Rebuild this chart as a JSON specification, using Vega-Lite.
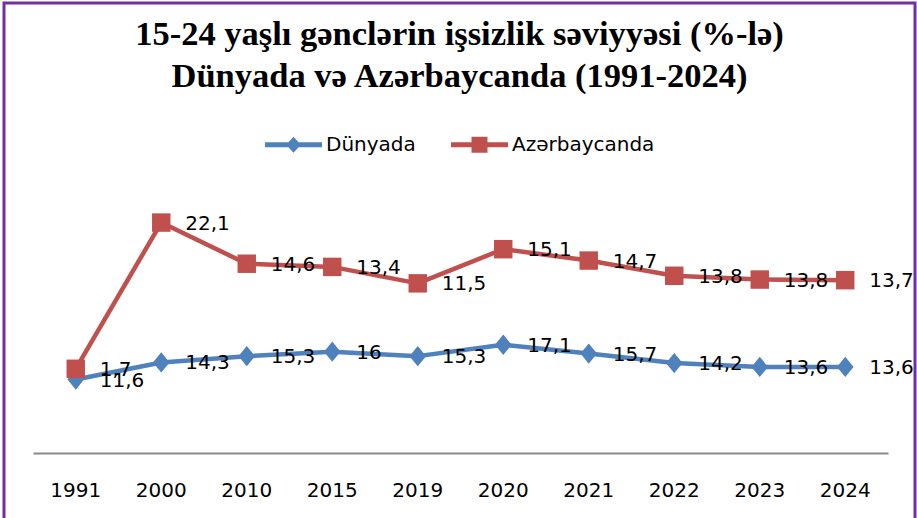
{
  "$schema": "https://vega.github.io/schema/vega-lite/v6.json",
  "width": 911,
  "height": 520,
  "autosize": {"type": "none"},
  "padding": {"left": 4, "top": 3, "right": 2, "bottom": 0},
  "title": {
    "text": ["15-24 yaşlı gənclərin işsizlik səviyyəsi (%-lə)", "Dünyada və Azərbaycanda (1991-2024)"],
    "font": "Liberation Serif",
    "fontSize": 34.5,
    "fontWeight": "bold",
    "color": "black",
    "lineHeight": 42,
    "anchor": "middle",
    "frame": "group",
    "offset": -91,
    "baseline": "top"
  },
  "data": {
    "values": [
      {"year": "1991", "series": "Dünyada", "value": 11.6},
      {"year": "2000", "series": "Dünyada", "value": 14.3},
      {"year": "2010", "series": "Dünyada", "value": 15.3},
      {"year": "2015", "series": "Dünyada", "value": 16},
      {"year": "2019", "series": "Dünyada", "value": 15.3},
      {"year": "2020", "series": "Dünyada", "value": 17.1},
      {"year": "2021", "series": "Dünyada", "value": 15.7},
      {"year": "2022", "series": "Dünyada", "value": 14.2},
      {"year": "2023", "series": "Dünyada", "value": 13.6},
      {"year": "2024", "series": "Dünyada", "value": 13.6},
      {"year": "1991", "series": "Azərbaycanda", "value": 1.7},
      {"year": "2000", "series": "Azərbaycanda", "value": 22.1},
      {"year": "2010", "series": "Azərbaycanda", "value": 14.6},
      {"year": "2015", "series": "Azərbaycanda", "value": 13.4},
      {"year": "2019", "series": "Azərbaycanda", "value": 11.5},
      {"year": "2020", "series": "Azərbaycanda", "value": 15.1},
      {"year": "2021", "series": "Azərbaycanda", "value": 14.7},
      {"year": "2022", "series": "Azərbaycanda", "value": 13.8},
      {"year": "2023", "series": "Azərbaycanda", "value": 13.8},
      {"year": "2024", "series": "Azərbaycanda", "value": 13.7}
    ]
  },
  "transform": [
    {"stack": "value", "groupby": ["year"], "sort": [{"field": "series", "order": "descending"}], "as": ["y0", "y1"]}
  ],
  "encoding": {
    "x": {
      "field": "year",
      "type": "ordinal",
      "scale": {"type": "band", "range": [29, 884], "paddingInner": 0, "paddingOuter": 0},
      "axis": {
        "title": null,
        "labelAngle": 0,
        "domainColor": "#898989",
        "domainWidth": 2,
        "ticks": false,
        "grid": false,
        "labelFont": "DejaVu Sans",
        "labelFontSize": 20,
        "labelColor": "black",
        "labelPadding": 27,
        "offset": -70
      }
    },
    "y": {
      "field": "y1",
      "type": "quantitative",
      "stack": null,
      "scale": {"domain": [-11.06, 71.09], "nice": false, "zero": false},
      "axis": null
    },
    "color": {
      "field": "series",
      "type": "nominal",
      "scale": {"domain": ["Dünyada", "Azərbaycanda"], "range": ["#4F81BD", "#C0504D"]},
      "legend": {
        "orient": "none",
        "legendX": 261,
        "legendY": 113,
        "direction": "horizontal",
        "title": null,
        "padding": 0,
        "labelFont": "DejaVu Sans",
        "labelFontSize": 20,
        "labelColor": "black",
        "labelOffset": 4,
        "columnPadding": 35,
        "symbolSize": 3249,
        "encode": {
          "symbols": {
            "update": {
              "shape": {"signal": "datum.value === 'Dünyada' ? 'M-1,-0.088H-0.178L0,-0.28L0.178,-0.088H1V0.088H0.178L0,0.28L-0.178,0.088H-1Z' : 'M-1,-0.088H-0.28V-0.28H0.28V-0.088H1V0.088H0.28V0.28H-0.28V0.088H-1Z'"},
              "fill": {"signal": "scale('color', datum.value)"},
              "stroke": {"value": "transparent"},
              "strokeWidth": {"value": 0},
              "size": {"value": 3249},
              "opacity": {"value": 1}
            }
          }
        }
      }
    }
  },
  "layer": [
    {"mark": {"type": "line", "strokeWidth": 4.5, "strokeJoin": "round"}},
    {
      "transform": [{"filter": "datum.series === 'Dünyada'"}],
      "mark": {"type": "point", "filled": true, "opacity": 1, "size": 340, "shape": "M0,-1.1L0.9,0L0,1.1L-0.9,0Z"}
    },
    {
      "transform": [{"filter": "datum.series === 'Azərbaycanda'"}],
      "mark": {"type": "point", "filled": true, "opacity": 1, "size": 340, "shape": "square"}
    },
    {
      "mark": {"type": "text", "align": "left", "baseline": "middle", "dx": 24, "dy": 1, "font": "DejaVu Sans", "fontSize": 20},
      "encoding": {
        "text": {"field": "value", "type": "quantitative", "format": ".1~f"},
        "color": {"value": "black"}
      }
    }
  ],
  "config": {
    "view": {"stroke": "#7030A0", "strokeWidth": 3},
    "locale": {"number": {"decimal": ",", "thousands": " ", "grouping": [3], "currency": ["", ""]}}
  }
}
